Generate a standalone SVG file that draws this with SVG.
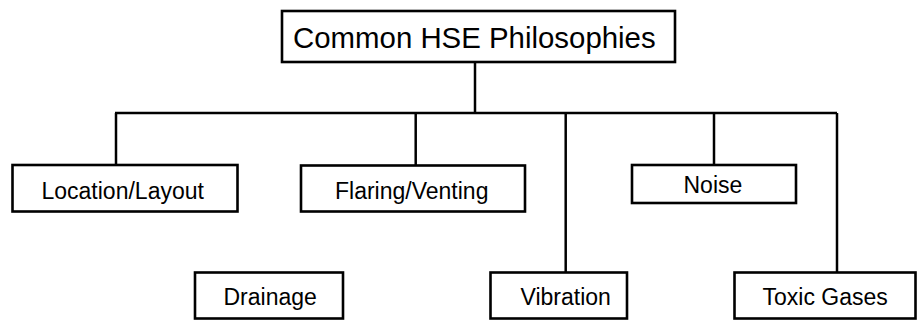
<svg xmlns="http://www.w3.org/2000/svg" width="923" height="320" viewBox="0 0 923 320">
<style>
.box{fill:#fff;stroke:#000;stroke-width:2.6}
.lbl{font-family:"Liberation Sans",Arial,sans-serif;font-size:23px;fill:#000}
.ttl{font-family:"Liberation Sans",Arial,sans-serif;font-size:29.4px;fill:#000}
.con{fill:none;stroke:#000;stroke-width:2.5}
</style>
<rect width="923" height="320" fill="#fff"/>
<g id="connectors" class="con">
<line x1="475" y1="62" x2="475" y2="113"/>
<line x1="115" y1="113" x2="837" y2="113"/>
<line x1="116" y1="113" x2="116" y2="165"/>
<line x1="415.7" y1="113" x2="415.7" y2="165.5"/>
<line x1="565.7" y1="113" x2="565.7" y2="272.5"/>
<line x1="714" y1="113" x2="714" y2="165"/>
<line x1="837" y1="113" x2="837" y2="272.5"/>
</g>
<g id="root">
<rect class="box" x="282" y="11" width="393" height="51"/>
<text class="ttl" x="293" y="48">Common HSE Philosophies</text>
</g>
<g id="location">
<rect class="box" x="12.5" y="165" width="225" height="46.5"/>
<text class="lbl" x="41.5" y="199">Location/Layout</text>
</g>
<g id="flaring">
<rect class="box" x="301" y="165.5" width="224" height="46"/>
<text class="lbl" x="335" y="199">Flaring/Venting</text>
</g>
<g id="noise">
<rect class="box" x="632" y="165" width="164" height="38"/>
<text class="lbl" x="683.5" y="192.5">Noise</text>
</g>
<g id="drainage">
<rect class="box" x="195" y="272.5" width="148" height="46"/>
<text class="lbl" x="223.5" y="305">Drainage</text>
</g>
<g id="vibration">
<rect class="box" x="490.5" y="272.5" width="136.5" height="46"/>
<text class="lbl" x="520.5" y="305">Vibration</text>
</g>
<g id="toxic">
<rect class="box" x="734.5" y="272.5" width="181" height="46"/>
<text class="lbl" x="762.5" y="305">Toxic Gases</text>
</g>
</svg>
